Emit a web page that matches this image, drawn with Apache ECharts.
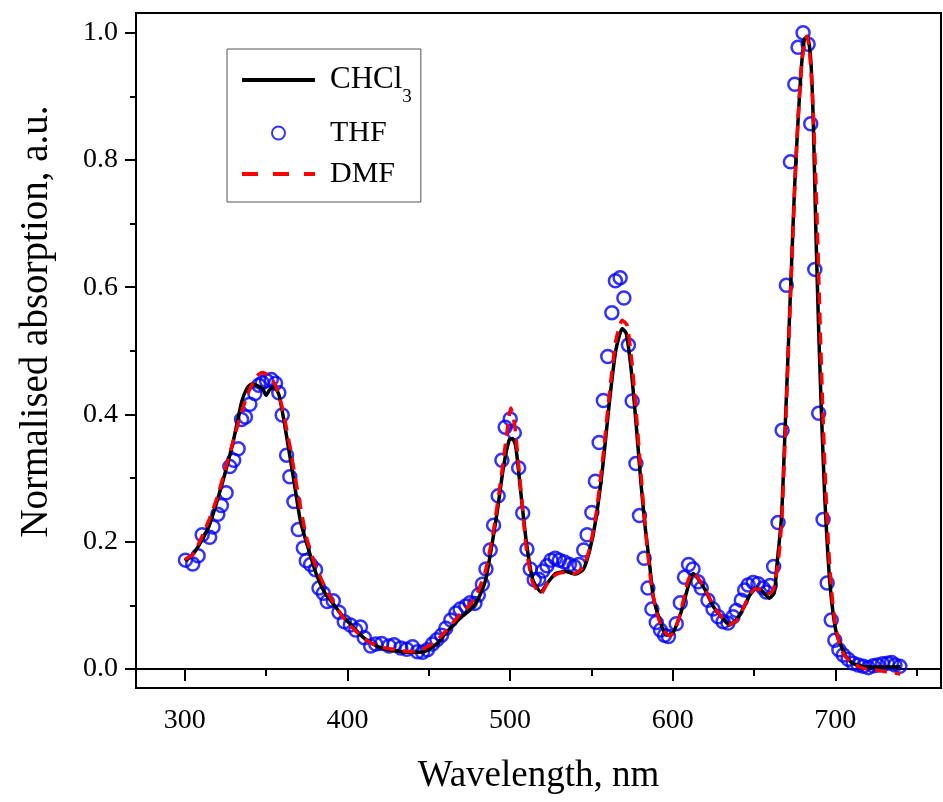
<!DOCTYPE html>
<html>
	<head>
		<meta charset="UTF-8">
		<title>Normalised absorption</title>
	</head>
<style type="text/css">
	body{margin: 0;padding: 0;background: #fff;}
	#chart{width: 943px;height: 802px;}
</style>
	<body>
		<div id="chart"></div>
		<script src="https://cdn.jsdelivr.net/npm/echarts@6.0.0/dist/echarts.min.js"></script>
		<script>
		// CHCl3 (black solid)
		var chclX = [300,305,310,315,320,325,330,335,338,341,345,348,350,352,355,358,362,367,371,375,381,386,392,397,402,407,412,418,425,431,437,443,448,452,456,460,464,469,474,478,482,485,488,492,496,499.5,501.5,503.5,506.5,510,514,519,523,528,534,540,545,549,553,557,561,565,569,571.5,574.5,577.5,580.5,583,586,588,592,596,600,605,609.5,612.5,615.5,620,625,630,635,639,643,647.5,651.5,655.5,659.5,662.5,664,666.9,669,671,673,675,677,679,681,683,685,686.5,688,689.8,691.5,693.5,695.6,697.7,700.7,705.8,710,715,720,725,730,735,740];
		var chclY = [0.17,0.18,0.2,0.225,0.265,0.31,0.36,0.42,0.44,0.448,0.445,0.44,0.43,0.438,0.444,0.43,0.375,0.297,0.234,0.197,0.148,0.12,0.1,0.083,0.07,0.056,0.045,0.036,0.03,0.028,0.026,0.026,0.028,0.034,0.042,0.055,0.066,0.079,0.09,0.1,0.119,0.14,0.182,0.245,0.318,0.36,0.362,0.35,0.28,0.2,0.14,0.121,0.135,0.15,0.153,0.149,0.156,0.187,0.239,0.318,0.417,0.5,0.535,0.527,0.47,0.386,0.292,0.225,0.16,0.114,0.077,0.053,0.056,0.088,0.129,0.15,0.142,0.124,0.098,0.082,0.069,0.077,0.093,0.116,0.127,0.121,0.111,0.12,0.16,0.238,0.368,0.498,0.629,0.759,0.857,0.941,0.99,0.994,0.954,0.857,0.694,0.531,0.401,0.271,0.173,0.108,0.056,0.023,0.01,0.005,0.003,0.003,0.003,0.003,0.004];

		// THF (blue open circles)
		var thfX = [300.4,304.9,308.2,310.7,315.3,317.4,320.3,322.5,325.4,327.7,330.1,332.8,334.9,337.3,340,343.1,345.5,347.6,350.3,353.2,355.8,357.8,359.9,362.6,364.6,367.1,369.8,372.9,374.7,377.4,380.4,382.5,385.2,387.6,391.3,394.8,398.1,401.8,405.1,408,410.4,414.3,417.4,421,425.6,428.7,432.8,436.5,440,443.1,446.2,449.2,452.3,455,457.9,460.5,463.6,466.7,469.3,472.8,475.5,478.4,480.5,483,485.2,487.8,489.9,492.7,495,497,500.1,502.6,505.3,507.8,510.4,512.4,514.9,517.6,520.1,522.7,525.2,527.8,530.3,533.4,536.5,539.5,542.3,545.3,547.4,550.3,552.5,554.8,557.4,560.1,562.6,564.8,567.7,570,572.8,575.1,577.4,579.6,582.5,584.8,587.2,589.9,592.5,595,597.4,602.2,604.7,607.3,609.8,612.5,615.5,617.6,621.7,624.8,627.9,631,634,637.1,639.1,642.2,644.3,646.4,649.5,652.5,655.6,657.6,660,662.1,664.8,667.3,669.9,672.4,675.1,677.1,680.2,683.3,684.9,687.4,689.8,692.5,695,697.5,699.7,702.2,704.9,707.9,711,714.1,717.2,720.3,723.3,726,729.1,732.1,734.6,736.7,739.7];
		var thfY = [0.171,0.165,0.178,0.211,0.207,0.223,0.243,0.257,0.277,0.318,0.328,0.346,0.392,0.396,0.416,0.433,0.446,0.45,0.453,0.455,0.449,0.434,0.399,0.336,0.302,0.263,0.219,0.19,0.17,0.164,0.156,0.127,0.119,0.106,0.107,0.089,0.074,0.069,0.061,0.066,0.049,0.036,0.039,0.04,0.036,0.038,0.033,0.031,0.035,0.027,0.026,0.03,0.039,0.046,0.053,0.064,0.077,0.088,0.094,0.099,0.104,0.103,0.116,0.133,0.157,0.187,0.226,0.272,0.328,0.38,0.393,0.371,0.316,0.245,0.188,0.157,0.14,0.141,0.154,0.162,0.171,0.174,0.171,0.168,0.164,0.161,0.164,0.187,0.211,0.246,0.295,0.356,0.422,0.491,0.56,0.61,0.615,0.583,0.509,0.421,0.323,0.241,0.174,0.127,0.094,0.073,0.061,0.053,0.051,0.071,0.104,0.144,0.164,0.157,0.137,0.127,0.108,0.094,0.082,0.074,0.072,0.082,0.092,0.108,0.124,0.132,0.136,0.134,0.127,0.121,0.131,0.161,0.23,0.375,0.603,0.797,0.919,0.977,1.0,0.982,0.857,0.628,0.402,0.235,0.135,0.077,0.045,0.03,0.022,0.015,0.009,0.006,0.004,0.002,0.005,0.006,0.008,0.009,0.01,0.006,0.004];

		// DMF (red dashed)
		var dmfX = [300,305,310,315,320,325,330,335,340,345,348,352,356,360,365,370,375,380,385,390,395,400,405,410,415,420,425,430,435,440,445,450,455,460,465,470,475,480,485,490,495,498,500.5,503,506,510,514,519,523,528,534,540,545,549,553,557,561,565,569,572,575,578,581,584,587,590,594,598,601,605,609,612,615,620,625,630,635,639,643,647,651,655,659,662,665,667,669,671,673,675,677,679,681,682.5,684,686,688,690,692,694,696,698,700,703,706,710,715,720,725,730,735,740];
		var dmfY = [0.172,0.18,0.205,0.235,0.27,0.315,0.36,0.405,0.44,0.462,0.466,0.46,0.445,0.41,0.345,0.27,0.205,0.165,0.135,0.11,0.09,0.072,0.06,0.048,0.04,0.035,0.032,0.03,0.028,0.027,0.03,0.036,0.045,0.058,0.073,0.088,0.1,0.12,0.155,0.22,0.31,0.37,0.41,0.38,0.3,0.19,0.135,0.118,0.135,0.148,0.152,0.15,0.16,0.19,0.245,0.33,0.43,0.515,0.548,0.54,0.48,0.39,0.29,0.2,0.13,0.09,0.062,0.052,0.058,0.09,0.135,0.152,0.145,0.125,0.1,0.082,0.07,0.075,0.093,0.115,0.126,0.124,0.118,0.125,0.17,0.23,0.35,0.49,0.62,0.75,0.86,0.94,0.985,0.995,0.975,0.9,0.77,0.6,0.43,0.29,0.185,0.115,0.07,0.035,0.02,0.01,0.003,-0.001,-0.002,-0.004,-0.006,-0.008];

		// axis ticks
		var xMajor = [300,400,500,600,700];
		var xMinor = [350,450,550,650,750];
		var yMajor = [0,0.2,0.4,0.6,0.8,1.0];
		var yMinor = [0.1,0.3,0.5,0.7,0.9];

		function pairs(xs, ys){
			var out = [];
			for(var i=0;i<xs.length;i++){ out.push([xs[i], ys[i]]); }
			return out;
		}

		var serif = 'Liberation Serif';
		var chart = echarts.init(document.getElementById('chart'));

		chart.setOption({
			animation: false,
			backgroundColor: '#fff',
			grid: {left: 136, top: 13, right: 2, bottom: 114, show: true, borderColor: '#000', borderWidth: 2},
			legend: {
				orient: 'vertical', left: 227, top: 49,
				padding: [4, 9, 13, 13], itemGap: 11, itemWidth: 73, itemHeight: 13,
				borderColor: '#555', borderWidth: 1, selectedMode: false,
				data: [
					{name: 'CHCl3', itemStyle: {opacity: 0}, lineStyle: {width: 4, color: '#000'}},
					{name: 'THF'},
					{name: 'DMF', itemStyle: {opacity: 0}, lineStyle: {width: 4, color: '#ff0000', type: [16, 15]}}
				],
				formatter: function(n){ return n === 'CHCl3' ? '{m|CHCl}{s|3}' : n; },
				textStyle: {
					fontFamily: serif, fontSize: 30, color: '#000', lineHeight: 28, padding: [0, 0, 0, 10],
					rich: {
						m: {fontFamily: serif, fontSize: 31, lineHeight: 54, color: '#000'},
						s: {fontFamily: serif, fontSize: 19, lineHeight: 19, verticalAlign: 'bottom', color: '#000'}
					}
				}
			},
			xAxis: [{
				type: 'value', min: 270, max: 765, position: 'bottom',
				axisLine: {lineStyle: {color: '#000', width: 2}},
				axisTick: {customValues: xMajor, length: 12, lineStyle: {color: '#000', width: 2}},
				axisLabel: {customValues: xMajor, fontFamily: serif, fontSize: 28, color: '#000', margin: 19},
				splitLine: {show: false},
				name: 'Wavelength, nm', nameLocation: 'middle', nameGap: 70,
				nameTextStyle: {fontFamily: serif, fontSize: 37, color: '#000'}
			}, {
				type: 'value', min: 270, max: 765, position: 'bottom',
				axisLine: {show: false},
				axisTick: {customValues: xMinor, length: 7, lineStyle: {color: '#000', width: 2}},
				axisLabel: {show: false},
				splitLine: {show: false}
			}],
			yAxis: [{
				type: 'value', min: -0.03, max: 1.031, position: 'left',
				axisLine: {show: true, lineStyle: {color: '#000', width: 2}},
				axisTick: {show: true, customValues: yMajor, length: 11, lineStyle: {color: '#000', width: 2}},
				axisLabel: {customValues: yMajor, fontFamily: serif, fontSize: 28, color: '#000', margin: 18,
					formatter: function(v){ return v.toFixed(1); }},
				splitLine: {show: false},
				name: 'Normalised absorption, a.u.', nameLocation: 'middle', nameGap: 80,
				nameTextStyle: {fontFamily: serif, fontSize: 39, color: '#000', padding: [0, 0, 0, 58]}
			}, {
				type: 'value', min: -0.03, max: 1.031, position: 'left',
				axisLine: {show: false},
				axisTick: {show: true, customValues: yMinor, length: 6, lineStyle: {color: '#000', width: 2}},
				axisLabel: {show: false},
				splitLine: {show: false}
			}],
			series: [{
				name: 'CHCl3', type: 'line', symbol: 'none', smooth: 0.2,
				data: pairs(chclX, chclY),
				lineStyle: {color: '#000', width: 3.5}, itemStyle: {color: '#000'}
			}, {
				name: 'THF', type: 'scatter', symbol: 'circle', symbolSize: 13,
				data: pairs(thfX, thfY),
				itemStyle: {color: 'rgba(255,255,255,0)', borderColor: '#0000ff', borderWidth: 2.5}
			}, {
				name: 'DMF', type: 'line', symbol: 'none', smooth: 0.2,
				data: pairs(dmfX, dmfY),
				lineStyle: {color: '#ff0000', width: 3.5, type: [12, 8]}, itemStyle: {color: '#ff0000'}
			}]
		});
		</script>
	</body>
</html>
